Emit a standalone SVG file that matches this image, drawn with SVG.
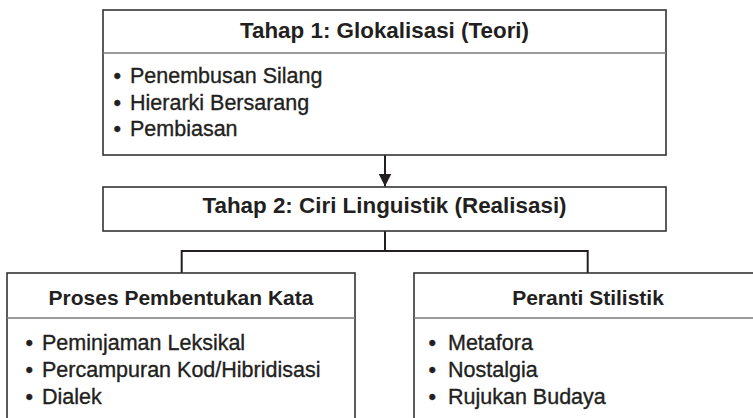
<svg xmlns="http://www.w3.org/2000/svg" width="753" height="418" viewBox="0 0 753 418">
  <defs>
    <style>
      .box { fill: #ffffff; stroke: #333333; stroke-width: 1.6; }
      .div { stroke: #7a7a7a; stroke-width: 1.6; }
      .title { font-family: "Liberation Sans", Arial, sans-serif; font-weight: bold; font-size: 22.4px; fill: #231f20; text-anchor: middle; }
      .sub { font-family: "Liberation Sans", Arial, sans-serif; font-weight: bold; font-size: 21px; fill: #231f20; text-anchor: middle; }
      .item { font-family: "Liberation Sans", Arial, sans-serif; font-size: 21.5px; fill: #231f20; stroke: #231f20; stroke-width: 0.35; }
      .conn { fill: none; stroke: #231f20; stroke-width: 2; }
    </style>
    <marker id="arrow" markerWidth="13" markerHeight="13" refX="13" refY="6.5" orient="auto" markerUnits="userSpaceOnUse">
      <path d="M0,0 L13,6.5 L0,13 Z" fill="#231f20"/>
    </marker>
  </defs>
  <rect width="753" height="418" fill="#ffffff"/>

  <g id="connectors">
    <line class="conn" x1="385" y1="155" x2="385" y2="186.5" marker-end="url(#arrow)"/>
    <polyline class="conn" points="385,231 385,251 181.7,251 181.7,273"/>
    <polyline class="conn" points="385,251 587.7,251 587.7,273"/>
  </g>

  <g id="tahap1">
    <rect class="box" x="103" y="10" width="563" height="145"/>
    <line class="div" x1="103" y1="53" x2="666" y2="53"/>
    <text class="title" x="384.5" y="38">Tahap 1: Glokalisasi (Teori)</text>
    <text class="item" y="83"><tspan x="113.5">•</tspan><tspan x="130">Penembusan Silang</tspan></text>
    <text class="item" y="109.5"><tspan x="113.5">•</tspan><tspan x="130">Hierarki Bersarang</tspan></text>
    <text class="item" y="136"><tspan x="113.5">•</tspan><tspan x="130">Pembiasan</tspan></text>
  </g>

  <g id="tahap2">
    <rect class="box" x="103" y="187" width="563" height="44"/>
    <text class="title" x="384.5" y="213">Tahap 2: Ciri Linguistik (Realisasi)</text>
  </g>

  <g id="proses">
    <rect class="box" x="7" y="273" width="348" height="160"/>
    <line class="div" x1="7" y1="318" x2="355" y2="318"/>
    <text class="sub" x="181" y="304.5">Proses Pembentukan Kata</text>
    <text class="item" y="350"><tspan x="25.5">•</tspan><tspan x="42">Peminjaman Leksikal</tspan></text>
    <text class="item" y="377"><tspan x="25.5">•</tspan><tspan x="42">Percampuran Kod/Hibridisasi</tspan></text>
    <text class="item" y="404"><tspan x="25.5">•</tspan><tspan x="42">Dialek</tspan></text>
  </g>

  <g id="peranti">
    <rect class="box" x="414" y="273" width="348" height="160"/>
    <line class="div" x1="414" y1="318" x2="762" y2="318"/>
    <text class="sub" x="588" y="304.5">Peranti Stilistik</text>
    <text class="item" y="350"><tspan x="428.5">•</tspan><tspan x="448">Metafora</tspan></text>
    <text class="item" y="377"><tspan x="428.5">•</tspan><tspan x="448">Nostalgia</tspan></text>
    <text class="item" y="404"><tspan x="428.5">•</tspan><tspan x="448">Rujukan Budaya</tspan></text>
  </g>
</svg>
